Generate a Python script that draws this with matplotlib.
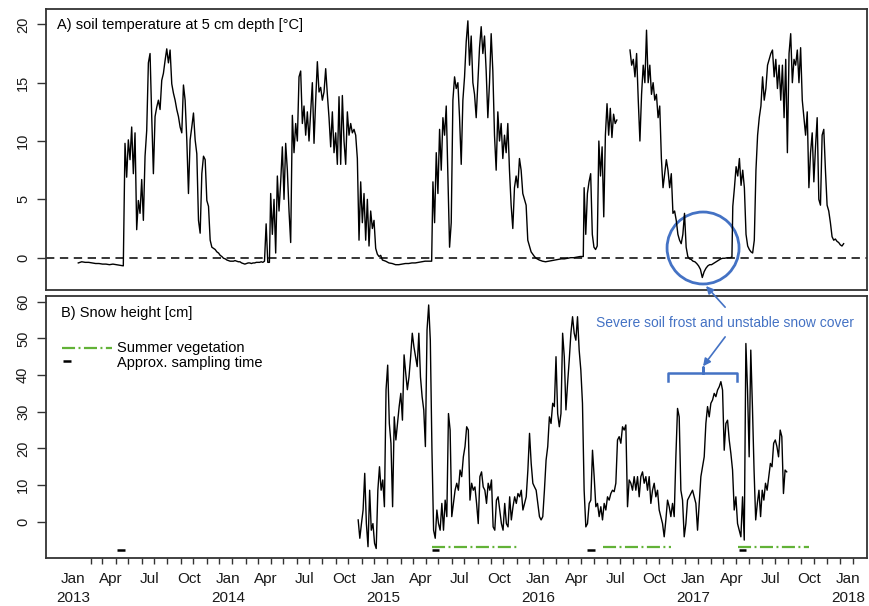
import numpy as np
import pandas as pd
import matplotlib
matplotlib.use("Agg")
import matplotlib.pyplot as plt
import matplotlib.dates as mdates
from matplotlib.patches import Ellipse

plt.rcParams['font.family'] = ['Liberation Sans', 'DejaVu Sans']
plt.rcParams['lines.scale_dashes'] = False

# --- soil temperature at 5 cm depth [°C], one list per season -------------
temp_w13 = [-0.45, -0.35, -0.4, -0.4, -0.45, -0.5, -0.5, -0.55, -0.55, -0.6,
            -0.55, -0.6, -0.65, -0.7]
temp_s13 = [9.8, 6.9, 10.1, 8.4, 11.2, 7.2, 10.7, 2.4, 4.9, 3.8, 6.7, 3.2, 8.7,
            10.9, 16.7, 17.5, 12.1, 7.2, 12.1, 12.9, 13.5, 12.7, 15.2, 15.8,
            16.9, 17.9, 16.7, 17.8, 14.9, 14.1, 13.5, 12.7, 12.1, 11.2, 10.7,
            14.8, 13.5, 10.1, 5.5, 10.1, 11.2, 12.4, 10.1, 8.9, 3.2, 2.1, 7.2,
            8.7, 8.4, 4.9, 4.4, 1.5, 0.9, 0.8, 0.7, 0.5, 0.4, 0.2, 0.1, -0.05]
temp_w14 = [-0.1, -0.2, -0.25, -0.3, -0.3, -0.3, -0.25, -0.3, -0.35, -0.35,
            -0.45, -0.5, -0.55, -0.5, -0.45, -0.45, -0.5, -0.45, -0.45, -0.4,
            -0.4, -0.4, -0.35, -0.4, -0.3, 2.9, -0.4, -0.4]
temp_s14 = [5.5, 2.0, 5.0, 0.4, 7.0, 4.0, 6.5, 9.5, 5.0, 9.8, 7.5, 4.0, 1.3,
            12.2, 9.0, 11.5, 10.0, 15.5, 16.0, 11.5, 13.0, 10.5, 12.5, 10.0,
            12.5, 15.0, 9.8, 13.5, 16.8, 14.2, 14.6, 13.5, 14.2, 16.2, 14.0,
            12.0, 9.5, 12.5, 9.0, 10.7, 8.0, 13.8, 8.0, 13.9, 10.0, 8.0, 12.5,
            10.5, 11.5, 10.7, 11.0, 10.5, 8.5, 1.5, 6.5, 3.0, 5.5, 1.5, 5.0,
            1.0, 4.0, 2.5, 3.2, 0.8, 0.3, 0.1, 0.2]
temp_w15 = [-0.2, -0.3, -0.45, -0.5, -0.6, -0.6, -0.55, -0.5, -0.5, -0.45,
            -0.45, -0.4, -0.35, -0.3, -0.3, -0.3]
temp_s15 = [6.5, 3.0, 9.0, 5.5, 11.0, 7.5, 12.0, 10.5, 13.0, 7.0, 0.9, 3.0,
            13.5, 15.5, 14.5, 15.0, 12.0, 8.0, 13.5, 15.5, 18.5, 20.3, 16.5,
            19.0, 15.0, 14.0, 12.0, 15.0, 18.0, 19.8, 17.5, 19.0, 16.0, 12.0,
            15.0, 19.2, 16.0, 10.5, 7.5, 12.5, 10.0, 11.5, 8.5, 10.5, 9.0,
            11.5, 7.5, 4.5, 2.5, 6.0, 7.0, 6.0, 8.5, 7.5, 5.5, 5.0, 4.5, 1.5,
            1.0, 0.5, 0.3, 0.1]
temp_w16 = [-0.05, -0.2, -0.3, -0.35, -0.3, -0.25, -0.2, -0.15, -0.1, -0.1,
            -0.05, 0.0, 0.0, 0.05, 0.1, 0.1]
temp_sp16 = [6.0, 2.0, 5.5, 6.5, 7.2, 2.0, 0.9, 0.7, 1.0, 10.0, 7.0, 9.5, 3.5,
             10.5, 13.2, 10.5, 12.8, 10.3, 12.3, 11.5, 11.8]
temp_s16 = [17.8, 16.5, 17.0, 15.5, 17.5, 13.5, 10.0, 14.0, 16.5, 15.0, 19.5,
            15.0, 16.5, 14.0, 15.0, 13.5, 14.0, 12.0, 13.0, 8.5, 6.0, 7.2, 8.4,
            7.5, 6.0, 7.2, 3.8, 4.0, 3.2, 2.0, 1.5, 1.2, 2.0, 3.8, 0.9, 0.1,
            -0.1]
temp_w17 = [-0.15, -0.3, -0.35, -0.5, -0.7, -1.0, -1.7, -1.2, -0.9, -0.7,
            -0.6, -0.6, -0.5, -0.4, -0.3, -0.2, -0.1, -0.05, -0.05, -0.02, 0.0,
            0.0, 0.05]
temp_s17 = [4.4, 6.0, 7.8, 7.0, 8.5, 6.2, 7.5, 6.0, 2.0, 1.0, 0.7, 0.5, 0.4,
            1.5, 7.5, 10.5, 12.0, 13.0, 15.5, 13.5, 14.5, 16.5, 17.0, 17.5,
            17.8, 15.5, 17.0, 14.5, 16.5, 13.5, 16.5, 12.0, 17.0, 9.0, 17.5,
            19.2, 15.0, 17.0, 16.5, 17.8, 15.0, 18.0, 13.5, 12.0, 10.5, 12.5,
            6.0, 9.0, 10.7, 6.5, 9.5, 12.0, 5.0, 4.5, 10.5, 11.0, 7.5, 4.5,
            4.0, 3.0, 1.8, 1.5, 1.6, 1.4, 1.3, 1.1, 1.0, 1.2]

temp_segments = [
    ("2013-01-14", "2013-04-30", temp_w13),
    ("2013-05-04", "2013-12-22", temp_s13),
    ("2013-12-26", "2014-04-09", temp_w14),
    ("2014-04-12", "2014-12-27", temp_s14),
    ("2014-12-31", "2015-04-26", temp_w15),
    ("2015-04-29", "2015-12-24", temp_s15),
    ("2015-12-28", "2016-04-17", temp_w16),
    ("2016-04-19", "2016-07-05", temp_sp16),
    None,  # logger gap
    ("2016-08-05", "2016-12-23", temp_s16),
    ("2016-12-27", "2017-04-02", temp_w17),
    ("2017-04-04", "2017-12-21", temp_s17),
]

# --- snow height [cm] -------------------------------------------------------
snow_a = [0.5, -4.5, -0.5, 3.2, 13.2, -0.5, -6.8, 8.6, -2.3, -0.5, -5.9, -7.3,
          8.6, 15.0, 8.6, 11.4, 4.1, 36.0, 42.7, 26.8, 21.4, 4.1, 28.6, 22.3,
          26.8, 31.4, 35.0, 27.7, 45.5, 40.5, 36.0, 39.5, 45.0, 51.4, 47.7,
          45.0, 42.3, 51.4, 39.5, 34.1, 30.5, 20.5, 52.3, 59.1, 49.5, 19.5,
          -2.3, -4.5, 3.2, -0.5, -2.3]
snow_b = [5.0, -2.3, 5.9, 1.4, 29.5, 25.0, 1.4, 5.0, 8.6, 10.5, 8.6, 14.1,
          12.3, 17.7, 20.5, 25.9, 25.0, 5.9, 10.5, 8.6, 9.5, 5.0, -0.5, 12.3,
          13.6, 9.5, 8.6, 5.0, 10.5, 8.6, 11.4, -1.4, -2.3, 5.9, 6.8, 3.2,
          -0.5, -2.3, 5.0, -0.5, -1.4, 6.8, 0.5, 4.1, 6.8, 5.0, 7.7, 6.8, 8.6,
          3.2, 5.0, 6.8, 14.1, 24.1, 15.9, 10.5, 9.5, 8.6, 5.0, 1.4, 0.5, 1.4,
          8.6, 16.8, 20.5, 28.6, 26.8, 32.3, 31.4, 45.0, 29.5, 25.9, 29.5,
          51.4, 45.0, 30.5, 37.7, 44.1, 51.4, 55.9, 51.4, 49.5, 55.9, 46.8,
          41.4, 32.3, 8.6]
snow_c = [-1.4, -0.5, 5.0, 5.9, 19.5, 12.3, 4.1, 5.0, 1.4, 4.1, 0.5, 5.0, 3.2,
          6.8, 5.9, 7.7, 8.6, 8.2, 10.5, 22.3, 23.2, 21.4, 25.9, 25.0, 26.4,
          4.1, 11.4, 10.5, 8.6, 12.3, 8.6, 12.3, 6.8, 12.3, 13.6, 10.5, 12.3,
          8.6, 12.3, 5.0, 8.6, 10.5, 6.8, 8.6, 3.2, 1.4, -0.5, -4.1, 0.5, 5.9,
          4.1, 1.4, 5.0, 1.4, 17.7, 30.9, 28.6, 8.6, 5.9, -4.1, -0.5, 5.9, 6.8,
          7.7, 8.6, 6.8, 5.0, -2.3, 5.0, 12.3, 15.0, 17.7, 26.8, 31.4, 28.6,
          32.3, 33.2, 35.0, 34.1, 35.9, 36.8, 38.2, 35.9, 19.5, 26.8, 27.7,
          22.3, 18.6, 14.1, 3.2, 6.8, -0.5, -2.3, -4.1, 6.8]
snow_d = [-5.0, 48.6, 35.9, 17.7, 46.8, 31.4, 14.1, 0.5, 5.0, 8.6, 1.4, 8.6,
          5.9, 10.5, 8.6, 12.3, 15.9, 15.0, 21.4, 22.3, 20.5, 17.7, 25.0, 23.2,
          7.7, 14.1, 13.6]

snow_segments = [
    ("2014-11-04", "2015-05-16", snow_a),
    ("2015-05-20", "2016-04-19", snow_b),
    ("2016-04-23", "2017-04-27", snow_c),
    ("2017-05-01", "2017-08-09", snow_d),
]

# summer vegetation periods and approximate sampling windows
veg_periods = [("2015-04-26", "2015-11-15"), ("2016-06-03", "2016-11-09"),
               ("2017-04-17", "2017-10-01")]
sampling_periods = [("2013-04-16", "2013-05-05"), ("2015-04-26", "2015-05-13"),
                    ("2016-04-26", "2016-05-14"), ("2017-04-19", "2017-05-05")]

month_names = ["Jan", "Apr", "Jul", "Oct"]
years = [2013, 2014, 2015, 2016, 2017, 2018]

BLUE = "#4472C4"
GREEN = "#62B237"
FS = 10.5


def build(segments):
    dates, vals = [], []
    for seg in segments:
        if seg is None:
            dates.append(dates[-1] + pd.Timedelta(days=1))
            vals.append(np.nan)
            continue
        start, end, v = seg
        dates.extend(pd.date_range(start, end, periods=len(v)))
        vals.extend(v)
    return pd.Series(vals, index=pd.DatetimeIndex(dates))


temp = build(temp_segments)
snow = build(snow_segments)

d = lambda s: mdates.date2num(pd.Timestamp(s))

fig = plt.figure(figsize=(8.7, 6.06), dpi=100)
ax1 = fig.add_axes([46 / 870, 1 - 290 / 606, 821 / 870, 280.7 / 606])
ax2 = fig.add_axes([46 / 870, 1 - 557.7 / 606, 821 / 870, 261.7 / 606])

xlim = (pd.Timestamp("2012-10-30"), pd.Timestamp("2018-02-14"))

for ax in (ax1, ax2):
    ax.set_xlim(xlim)
    for sp in ax.spines.values():
        sp.set_color("#333333")
        sp.set_linewidth(1.3)
    ax.tick_params(axis="y", length=6.5, width=1.0, color="#333333",
                   labelsize=FS, pad=5, labelcolor="#1a1a1a")

# A) soil temperature
ax1.plot(temp.index, temp.values, color="black", lw=1.0)
ax1.axhline(0, color="black", lw=1.1, dashes=(6, 4))
ax1.set_ylim(-2.77, 21.29)
ax1.set_yticks([0, 5, 10, 15, 20])
ax1.set_xticks([])
ax1.text(0.0134, 0.944, "A) soil temperature at 5 cm depth [°C]",
         transform=ax1.transAxes, fontsize=FS, va="center", ha="left")

# B) snow height
ax2.plot(snow.index, snow.values, color="black", lw=1.0)
for a, b in veg_periods:
    ax2.plot([pd.Timestamp(a), pd.Timestamp(b)], [-6.8, -6.8], color=GREEN,
             lw=1.6, dashes=(9.4, 2.5, 1.4, 2.5))
for a, b in sampling_periods:
    ax2.plot([pd.Timestamp(a), pd.Timestamp(b)], [-7.7, -7.7], color="black",
             lw=1.8, solid_capstyle="butt")
ax2.set_ylim(-9.8, 61.55)
ax2.set_yticks([0, 10, 20, 30, 40, 50, 60])
ax2.text(0.0183, 0.936, "B) Snow height [cm]", transform=ax2.transAxes,
         fontsize=FS, va="center", ha="left")

# legend drawn by hand
ax2.plot([0.0195, 0.0804], [0.801, 0.801], transform=ax2.transAxes,
         color=GREEN, lw=1.6, dashes=(9.4, 2.5, 1.4, 2.5))
ax2.plot([0.0207, 0.0305], [0.752, 0.752], transform=ax2.transAxes,
         color="black", lw=1.8, solid_capstyle="butt")
ax2.text(0.0865, 0.801, "Summer vegetation", transform=ax2.transAxes,
         fontsize=FS, va="center", ha="left")
ax2.text(0.0865, 0.745, "Approx. sampling time", transform=ax2.transAxes,
         fontsize=FS, va="center", ha="left")

# x axis: quarterly labels, monthly tick marks
label_dates, label_text = [], []
for y in years:
    for i, m in enumerate(month_names):
        if y == years[-1] and i > 0:
            break
        label_dates.append(pd.Timestamp(year=y, month=3 * i + 1, day=1))
        label_text.append(f"{m}\n{y}" if m == "Jan" else m)
ax2.set_xticks(label_dates)
ax2.set_xticklabels(label_text, fontsize=11, color="#1a1a1a")
for t in ax2.get_xticklabels():
    t.set_linespacing(1.4)
ax2.tick_params(axis="x", which="major", length=0, pad=10.5)
minor = pd.date_range("2013-01-12", "2018-01-12", freq="MS") + pd.Timedelta(days=11)
ax2.set_xticks(minor, minor=True)
ax2.tick_params(axis="x", which="minor", length=4.5, width=1.0, color="#333333")

for ax in (ax1, ax2):
    for t in ax.get_yticklabels():
        t.set_rotation(90)
        t.set_va("center")

# frost annotation
ax1.add_patch(Ellipse((d("2017-01-24"), 0.83), width=169.5, height=6.17,
                      fill=False, ec=BLUE, lw=2.0, clip_on=False))
ax2.text(d("2017-03-17"), 54.2, "Severe soil frost and unstable snow cover",
         color=BLUE, fontsize=10, ha="center", va="center")
arrow = dict(arrowstyle="-|>", color=BLUE, lw=1.2, mutation_scale=11,
             shrinkA=0, shrinkB=0)
ax2.annotate("", xy=(d("2017-01-31"), -2.43), xycoords=ax1.transData,
             xytext=(d("2017-03-17"), 58.5), textcoords=ax2.transData,
             arrowprops=arrow, annotation_clip=False)
ax2.annotate("", xy=(d("2017-01-24"), 42.4), xytext=(d("2017-03-17"), 50.4),
             arrowprops=arrow)
bx = [d("2016-11-03"), d("2016-11-03"), d("2017-01-24"), d("2017-01-24"),
      d("2017-01-24"), d("2017-04-14"), d("2017-04-14")]
by = [38.4, 40.6, 40.6, 42.1, 40.6, 40.6, 38.4]
ax2.plot(bx, by, color=BLUE, lw=1.8, solid_joinstyle="round")

fig.savefig("out.png", dpi=100, facecolor="white")
